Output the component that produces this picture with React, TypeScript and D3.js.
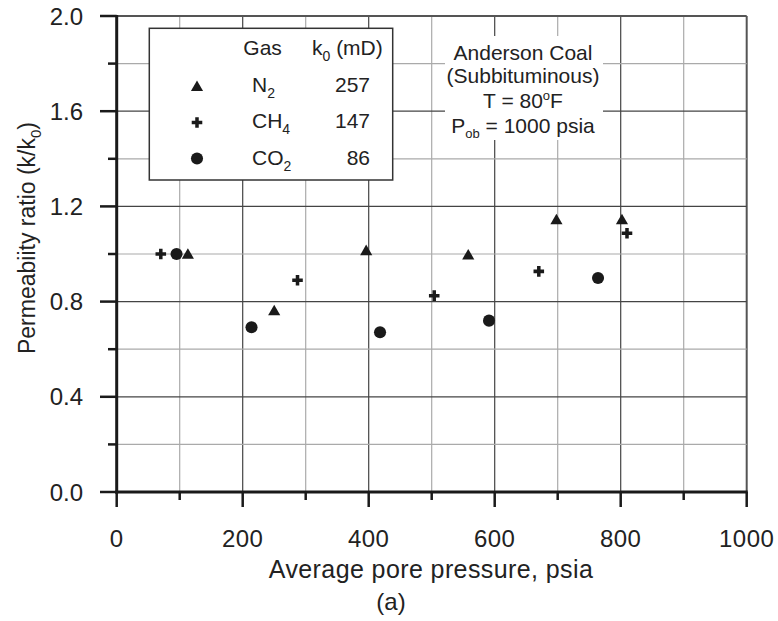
import React from 'react';
import * as d3 from 'd3';

const n2Pressure = [113, 250, 396, 558, 698, 802];
const n2Ratio = [0.995, 0.757, 1.01, 0.992, 1.14, 1.14];
const ch4Pressure = [70, 287, 504, 670, 810];
const ch4Ratio = [1.0, 0.89, 0.825, 0.927, 1.087];
const co2Pressure = [95, 214, 418, 591, 764];
const co2Ratio = [1.0, 0.692, 0.671, 0.72, 0.899];

const gasNames = ['N', 'CH', 'CO'];
const gasSubscripts = ['2', '4', '2'];
const k0Values = ['257', '147', '86'];

const xTickValues = [0, 200, 400, 600, 800, 1000];
const yTickValues = [0, 0.4, 0.8, 1.2, 1.6, 2.0];

const W = 778;
const H = 621;
const X0 = 116.7;
const X1 = 746.7;
const Y0 = 492;
const Y1 = 16;

const sans = '"Liberation Sans", Arial, Helvetica, sans-serif';

export default function App() {
  const x = d3.scaleLinear().domain([0, 1000]).range([X0, X1]);
  const y = d3.scaleLinear().domain([0, 2]).range([Y0, Y1]);

  const tri = d3.symbol().type(d3.symbolTriangle).size(64)();
  const cross = d3.symbol().type(d3.symbolCross).size(62)();
  const circ = d3.symbol().type(d3.symbolCircle).size(115)();

  const xGrid = d3.range(100, 1001, 100);
  const yGrid = d3.range(1, 11).map((i) => i * 0.2);
  const xMinor = d3.range(100, 1000, 200);
  const yMinor = d3.range(0, 5).map((i) => 0.2 + i * 0.4);

  const series = [
    { xs: n2Pressure, ys: n2Ratio, path: tri },
    { xs: ch4Pressure, ys: ch4Ratio, path: cross },
    { xs: co2Pressure, ys: co2Ratio, path: circ },
  ];
  const legendPaths = [tri, cross, circ];
  const rowY = [92, 128, 165];
  const markY = [87.5, 122.5, 158.5];

  return (
    <svg width={W} height={H} style={{ position: 'absolute', left: 0, top: 0, background: '#fff' }}>
      <rect x={0} y={0} width={W} height={H} fill="#fff" />
      {/* gridlines */}
      {xGrid.map((v) => {
        const major = Math.round(v) % 200 === 0;
        return (
          <line key={'gx' + v} x1={x(v)} x2={x(v)} y1={Y0} y2={Y1}
            stroke={v === 1000 ? '#555' : major ? '#444' : '#aaa'} strokeWidth={v === 1000 ? 2 : 1.2} />
        );
      })}
      {yGrid.map((v, i) => {
        const major = (i + 1) % 2 === 0;
        const top = i === yGrid.length - 1;
        return (
          <line key={'gy' + i} x1={X0} x2={X1} y1={y(v)} y2={y(v)}
            stroke={top ? '#555' : major ? '#444' : '#aaa'} strokeWidth={top ? 1.8 : 1.2} />
        );
      })}

      {/* legend box */}
      <rect x={149.3} y={28.3} width={243.4} height={151.7} fill="#fff" stroke="#333" strokeWidth={1.5} />
      {/* annotation background */}
      <rect x={445} y={36} width={158} height={104} fill="#fff" />

      {/* axes */}
      <line x1={X0} x2={X0} y1={Y1 - 1} y2={Y0 + 1.5} stroke="#1a1a1a" strokeWidth={3} />
      <line x1={X0 - 1.5} x2={X1 + 1} y1={Y0} y2={Y0} stroke="#1a1a1a" strokeWidth={3} />
      {yTickValues.map((v) => (
        <line key={'yt' + v} x1={100} x2={X0} y1={y(v)} y2={y(v)} stroke="#1a1a1a" strokeWidth={2.5} />
      ))}
      {yMinor.map((v, i) => (
        <line key={'ytm' + i} x1={108} x2={X0} y1={y(v)} y2={y(v)} stroke="#1a1a1a" strokeWidth={2.5} />
      ))}
      {xTickValues.map((v) => (
        <line key={'xt' + v} x1={x(v)} x2={x(v)} y1={Y0} y2={Y0 + 15} stroke="#1a1a1a" strokeWidth={2.5} />
      ))}
      {xMinor.map((v) => (
        <line key={'xtm' + v} x1={x(v)} x2={x(v)} y1={Y0} y2={Y0 + 8} stroke="#1a1a1a" strokeWidth={2.5} />
      ))}

      {/* tick labels */}
      {yTickValues.map((v) => (
        <text key={'yl' + v} x={83} y={y(v) + 8.5} textAnchor="end" fontFamily={sans} fontSize={24} fill="#222">
          {v.toFixed(1)}
        </text>
      ))}
      {xTickValues.map((v) => (
        <text key={'xl' + v} x={x(v)} y={547} textAnchor="middle" fontFamily={sans} fontSize={24} fill="#222" letterSpacing={0.5}>
          {String(v)}
        </text>
      ))}

      {/* axis titles */}
      <text x={431} y={578} textAnchor="middle" fontFamily={sans} fontSize={25} fill="#222" letterSpacing={0.4}>
        Average pore pressure, psia
      </text>
      <text x={391} y={610} textAnchor="middle" fontFamily={sans} fontSize={24} fill="#222">
        (a)
      </text>
      <text transform="translate(35,238) rotate(-90)" textAnchor="middle" fontFamily={sans} fontSize={23} fill="#222">
        <tspan>Permeabiity ratio (k/k</tspan>
        <tspan fontSize={15} dy={6}>0</tspan>
        <tspan dy={-6}>)</tspan>
      </text>

      {/* data points */}
      {series.map((s, si) =>
        s.xs.map((px, i) => (
          <path key={'p' + si + '-' + i} d={s.path} transform={`translate(${x(px)},${y(s.ys[i])})`} fill="#1a1a1a" />
        ))
      )}

      {/* legend contents */}
      <text x={243.3} y={55} fontFamily={sans} fontSize={21} fill="#222">Gas</text>
      <text x={312} y={55} fontFamily={sans} fontSize={21} fill="#222">
        <tspan>k</tspan>
        <tspan fontSize={14} dy={6}>0</tspan>
        <tspan dy={-6}> (mD)</tspan>
      </text>
      {gasNames.map((g, i) => (
        <g key={'lg' + i}>
          <path d={legendPaths[i]} transform={`translate(197,${markY[i]})`} fill="#1a1a1a" />
          <text x={252} y={rowY[i]} fontFamily={sans} fontSize={21} fill="#222">
            <tspan>{g}</tspan>
            <tspan fontSize={14} dy={6}>{gasSubscripts[i]}</tspan>
          </text>
          <text x={370} y={rowY[i]} textAnchor="end" fontFamily={sans} fontSize={21} fill="#222">{k0Values[i]}</text>
        </g>
      ))}

      {/* annotation */}
      <g fontFamily={sans} fontSize={21} fill="#222" textAnchor="middle">
        <text x={523} y={60}>Anderson Coal</text>
        <text x={523} y={83}>(Subbituminous)</text>
        <text x={523} y={108}>
          <tspan>T = 80</tspan>
          <tspan fontSize={13} dy={-8}>o</tspan>
          <tspan dy={8}>F</tspan>
        </text>
        <text x={523} y={132.5}>
          <tspan>P</tspan>
          <tspan fontSize={13} dy={5}>ob</tspan>
          <tspan dy={-5}> = 1000 psia</tspan>
        </text>
      </g>
    </svg>
  );
}
